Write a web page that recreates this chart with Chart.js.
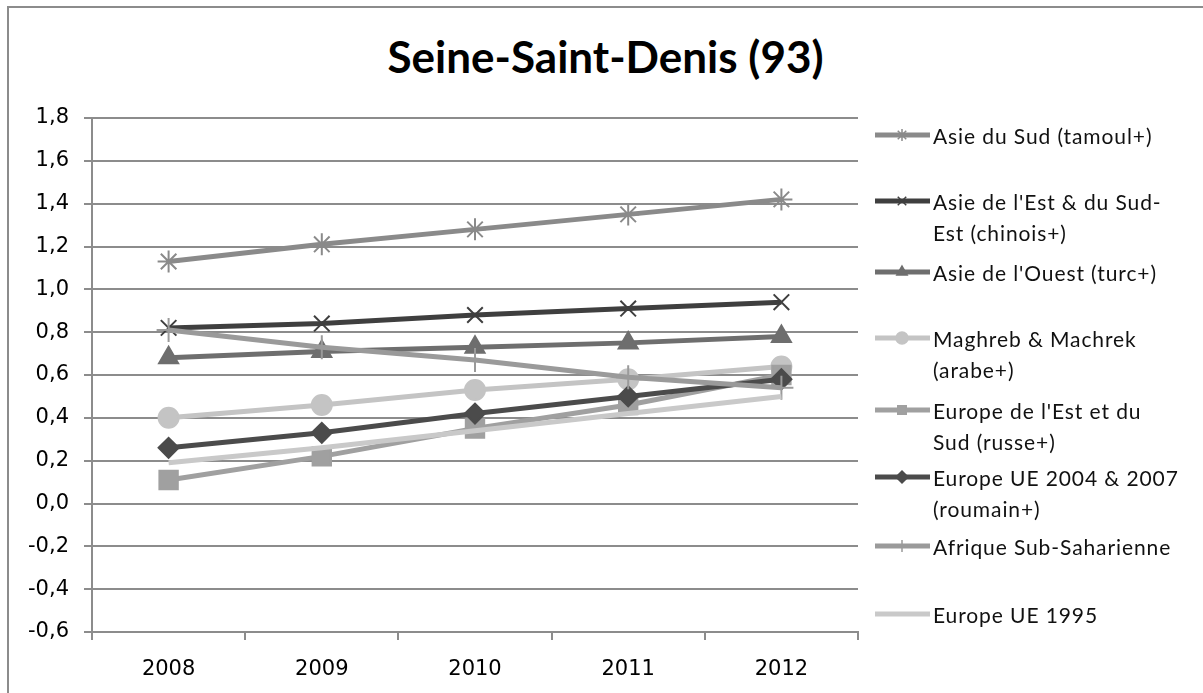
<!DOCTYPE html>
<html lang="fr">
<head>
<meta charset="utf-8">
<title>Seine-Saint-Denis (93)</title>
<script src="https://cdn.jsdelivr.net/npm/chart.js"></script>
<style>
  html, body { margin: 0; padding: 0; background: #fff; }
  body { width: 1203px; height: 693px; overflow: hidden; position: relative; }
  #cadre {
    position: absolute; left: 7px; top: 6px; width: 1300px; height: 800px;
    border-left: 2px solid #8c8c8c; border-top: 2px solid #8c8c8c;
  }
  #titre {
    position: absolute; left: 4px; top: 30px; width: 1203px; text-align: center;
    font-family: Lato, "Open Sans", sans-serif; font-weight: bold; font-size: 44px;
    line-height: 52px; color: #000;
  }
  #zone { position: absolute; left: 0; top: 0; width: 1203px; height: 693px; }
  #legende { position: absolute; left: 0; top: 0; }
  .item { position: absolute; left: 873px; }
  .item canvas { position: absolute; left: 0; top: 5px; }
  .item span {
    position: absolute; left: 60px; top: 0; white-space: pre;
    font-family: Lato, "Open Sans", sans-serif; font-size: 21px; letter-spacing: 0.9px;
    line-height: 31px; color: #111;
  }
</style>
</head>
<body>
<div id="cadre"></div>
<div id="titre">Seine-Saint-Denis (93)</div>
<div id="zone"><canvas id="graphique"></canvas></div>
<div id="legende"></div>
<script>
// === DONNÉES ===
const annees = ['2008', '2009', '2010', '2011', '2012'];

const asieSud      = [1.13, 1.21, 1.28, 1.35, 1.42];
const asieEst      = [0.82, 0.84, 0.88, 0.91, 0.94];
const asieOuest    = [0.68, 0.71, 0.73, 0.75, 0.78];
const maghreb      = [0.40, 0.46, 0.53, 0.58, 0.64];
const europeEst    = [0.11, 0.22, 0.35, 0.46, 0.60];
const europeUE2004 = [0.26, 0.33, 0.42, 0.50, 0.58];
const afrique      = [0.81, 0.73, 0.67, 0.59, 0.54];
const europeUE1995 = [0.19, 0.26, 0.34, 0.42, 0.50];

const nomsSeries = [
  'Asie du Sud (tamoul+)',
  "Asie de l'Est & du Sud-\nEst (chinois+)",
  "Asie de l'Ouest (turc+)",
  'Maghreb & Machrek\n(arabe+)',
  "Europe de l'Est et du\nSud (russe+)",
  'Europe UE 2004 & 2007\n(roumain+)',
  'Afrique Sub-Saharienne',
  'Europe UE 1995'
];

const valeurs = [asieSud, asieEst, asieOuest, maghreb, europeEst, europeUE2004, afrique, europeUE1995];

// === STYLES ===
const couleurs  = ['#8a8a8a', '#3f3f3f', '#6e6e6e', '#c4c4c4', '#a0a0a0', '#4b4b4b', '#9a9a9a', '#c9c9c9'];
const marqueurs = ['star', 'crossRot', 'triangle', 'circle', 'rect', 'rectRot', 'cross', false];
const rayons    = [11, 11, 11, 10, 13, 10, 12, 0];
const legendeY  = [135, 201, 272, 338, 410, 477, 546, 614];

const nomCourt = s => s.replace('-\n', '-').replace('\n', ' ');

const datasets = valeurs.map((v, i) => ({
  label: nomCourt(nomsSeries[i]),
  data: v,
  borderColor: couleurs[i],
  backgroundColor: couleurs[i],
  borderWidth: 5,
  pointStyle: marqueurs[i] || 'circle',
  pointRadius: rayons[i],
  pointHoverRadius: rayons[i],
  pointBorderWidth: 2,
  pointBackgroundColor: couleurs[i],
  pointBorderColor: couleurs[i],
  tension: 0,
  order: valeurs.length - i
}));

const gris = '#8c8c8c';
const police = { family: 'DejaVu Sans, Verdana, sans-serif', size: 21 };

new Chart(document.getElementById('graphique'), {
  type: 'line',
  data: { labels: annees, datasets },
  options: {
    responsive: true,
    maintainAspectRatio: false,
    animation: false,
    layout: { padding: { left: 0, right: 345, top: 118, bottom: 0 } },
    plugins: {
      legend: { display: false },
      tooltip: { enabled: false },
      title: { display: false }
    },
    scales: {
      x: {
        offset: true,
        grid: { offset: true, drawOnChartArea: false, drawTicks: true, tickLength: 8, color: gris, lineWidth: 2 },
        border: { color: gris, width: 2 },
        ticks: { color: '#000', font: police, padding: 17, maxRotation: 0 },
        afterFit: s => { s.height = 61; }
      },
      y: {
        min: -0.6,
        max: 1.8,
        grid: { color: gris, lineWidth: 2, tickLength: 8, drawTicks: true },
        border: { color: gris, width: 2 },
        ticks: {
          stepSize: 0.2,
          color: '#000',
          font: police,
          padding: 15,
          callback: v => (Math.abs(v) < 1e-9 ? 0 : v).toFixed(1).replace('.', ',')
        },
        afterFit: s => { s.width = 92; }
      }
    }
  }
});

// === LÉGENDE ===
const legende = document.getElementById('legende');
nomsSeries.forEach((nom, i) => {
  const item = document.createElement('div');
  item.className = 'item';
  item.style.top = (legendeY[i] - 15) + 'px';

  const c = document.createElement('canvas');
  c.width = 58; c.height = 20;
  const ctx = c.getContext('2d');
  ctx.strokeStyle = couleurs[i];
  ctx.fillStyle = couleurs[i];
  ctx.lineWidth = 5;
  ctx.beginPath();
  ctx.moveTo(2, 10);
  ctx.lineTo(57, 10);
  ctx.stroke();
  if (marqueurs[i] && Chart.helpers && Chart.helpers.drawPoint) {
    ctx.lineWidth = 1.5;
    Chart.helpers.drawPoint(ctx, { pointStyle: marqueurs[i], rotation: 0, radius: 6, borderWidth: 1.5 }, 29, 10);
  }
  item.appendChild(c);

  const t = document.createElement('span');
  t.textContent = nom;
  item.appendChild(t);
  legende.appendChild(item);
});
</script>
</body>
</html>
